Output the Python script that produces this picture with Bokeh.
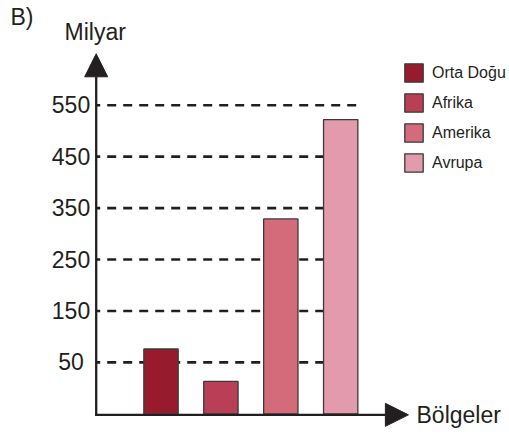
from bokeh.plotting import figure
from bokeh.models import (ColumnDataSource, Range1d, FixedTicker, Label, Arrow,
                          NormalHead, Legend, LegendItem)
from bokeh.embed import file_html
from bokeh.resources import INLINE

# ---- data ----
regions = ["Orta Doğu", "Afrika", "Amerika", "Avrupa"]
values = [76, 13, 329, 522]
colors = ["#981B2D", "#B93F57", "#D46B7B", "#E39AAC"]
tick_values = [50, 150, 250, 350, 450, 550]
tick_labels = ["50\u00a0", "150", "250", "350", "450", "550"]
y_label = "Milyar"
x_label = "Bölgeler"
panel_label = "B)"

# ---- styling / layout constants ----
W, H = 509, 434
Y_START, Y_END = -90.2, 753.6
X_START, X_END = -2.6795, 5.818
BASE = -50              # bars grow from here
BAR_WIDTH = 0.573
AXIS_X = -1.0818        # position of the vertical axis
INK = "#231F20"
FONT = "Liberation Sans"

p = figure(width=W, height=H,
           x_range=Range1d(X_START, X_END), y_range=Range1d(Y_START, Y_END),
           x_axis_type=None, output_backend="svg", toolbar_location=None,
           min_border_left=0, min_border_right=0, min_border_top=0,
           min_border_bottom=0)
p.outline_line_color = None
p.ygrid.grid_line_color = None
p.background_fill_color = "white"
p.border_fill_color = "white"

# y axis: labels only (placed at the axis position), the line is drawn as an arrow
ax = p.yaxis[0]
ax.fixed_location = AXIS_X
ax.ticker = FixedTicker(ticks=tick_values)
ax.major_label_overrides = {v: s for v, s in zip(tick_values, tick_labels)}
ax.axis_line_color = None
ax.major_tick_line_color = None
ax.minor_tick_line_color = None
ax.major_tick_out = 0
ax.major_tick_in = 0
ax.major_label_standoff = 6
ax.major_label_text_font = FONT
ax.major_label_text_font_size = "23px"
ax.major_label_text_color = INK

xs = list(range(len(regions)))
src = ColumnDataSource(dict(x=xs, top=values, color=colors, region=regions))

# dashed guide lines at the tick values, from the axis to the last bar's right edge
grid_x1 = xs[-1] + BAR_WIDTH / 2
p.segment(x0=[AXIS_X] * len(tick_values), y0=tick_values,
          x1=[grid_x1] * len(tick_values), y1=tick_values,
          line_color=INK, line_width=2.6, line_dash="9 7", line_dash_offset=5)

bars = p.vbar(x="x", top="top", bottom=BASE, width=BAR_WIDTH, source=src,
              fill_color="color", line_color="#3a3a3a", line_width=1.3)

# axes as arrows
p.add_layout(Arrow(end=NormalHead(size=23, fill_color=INK, line_color=INK, line_width=1),
                   x_start=AXIS_X, y_start=BASE - 4, x_end=AXIS_X, y_end=650,
                   line_color=INK, line_width=2.3))
p.add_layout(Arrow(end=NormalHead(size=23, fill_color=INK, line_color=INK, line_width=1),
                   x_start=AXIS_X - 0.02, y_start=BASE - 2, x_end=4.13, y_end=BASE - 2,
                   line_color=INK, line_width=2.3))

# legend
items = [LegendItem(label=regions[i], renderers=[bars], index=i) for i in range(len(regions))]
legend = Legend(items=items, location=(402, 260), glyph_width=23, glyph_height=23,
                label_height=23, spacing=7, padding=0, margin=0, label_standoff=7,
                label_text_font=FONT, label_text_font_size="16px", label_text_color=INK,
                border_line_color=None, background_fill_alpha=0)
p.add_layout(legend)

# texts
for txt, x, y in [(panel_label, 10, 417.3), (y_label, 64, 402.7), (x_label, 416, 19.3)]:
    p.add_layout(Label(x=x, y=y, x_units="screen", y_units="screen", text=txt,
                       text_font=FONT, text_font_size="23px", text_color=INK,
                       text_baseline="alphabetic"))

open("out.html", "w").write(file_html(p, INLINE))
